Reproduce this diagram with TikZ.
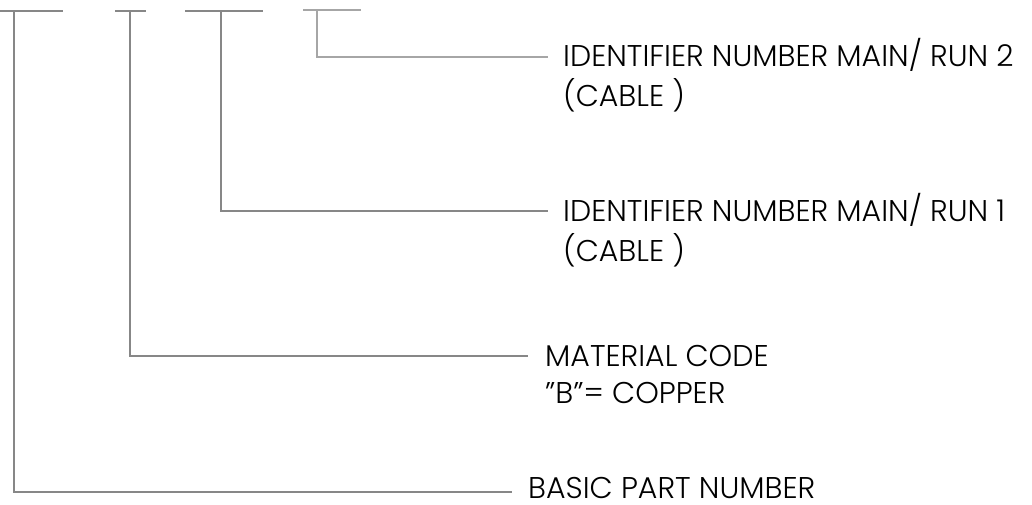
\documentclass[tikz,border=0pt]{standalone}
\usepackage{fontspec}
\IfFontExistsTF{Poppins Light}{\setmainfont{Poppins Light}}{\setmainfont{Poppins}}
\begin{document}
\begin{tikzpicture}[x=1pt,y=-1pt,
  conn/.style={draw=black!47, line width=1.5pt},
  conn2/.style={draw=black!35, line width=1.5pt},
  lab/.style={anchor=base west, inner sep=0pt, font=\fontsize{30}{36}\selectfont, text=black}]
\useasboundingbox (0,0) rectangle (1032,505);
% top segments
\coordinate (s1a) at (0,11);   \coordinate (s1b) at (63,11);
\coordinate (s2a) at (115,11); \coordinate (s2b) at (146,11);
\coordinate (s3a) at (185,11); \coordinate (s3b) at (263,11);
\coordinate (s4a) at (303,10); \coordinate (s4b) at (361,10);
\draw[conn] (s1a) -- (s1b);
\draw[conn] (s2a) -- (s2b);
\draw[conn] (s3a) -- (s3b);
\draw[conn2] (s4a) -- (s4b);
% stems
\coordinate (v1) at (14,11);
\coordinate (v2) at (130,11);
\coordinate (v3) at (221,11);
\coordinate (v4) at (317,10);
% labels
\node[lab] (t4) at (563,67) {IDENTIFIER NUMBER MAIN/ RUN 2};
\node[lab] (t4b) at (563,107) {(CABLE )};
\node[lab] (t3) at (563,221) {IDENTIFIER NUMBER MAIN/ RUN 1};
\node[lab] (t3b) at (563,261) {(CABLE )};
\node[lab] (t2) at (545,366) {MATERIAL CODE};
\node[lab] (t2b) at (545,403) {\symbol{34}B\symbol{34}= COPPER};
\node[lab] (t1) at (528,498) {BASIC PART NUMBER};
% line ends
\coordinate (e4) at (548,57);
\coordinate (e3) at (548,211);
\coordinate (e2) at (528,356);
\coordinate (e1) at (512,492);
\draw[conn2] (v4) |- (e4);
\draw[conn] (v3) |- (e3);
\draw[conn] (v2) |- (e2);
\draw[conn] (v1) |- (e1);
\end{tikzpicture}
\end{document}
